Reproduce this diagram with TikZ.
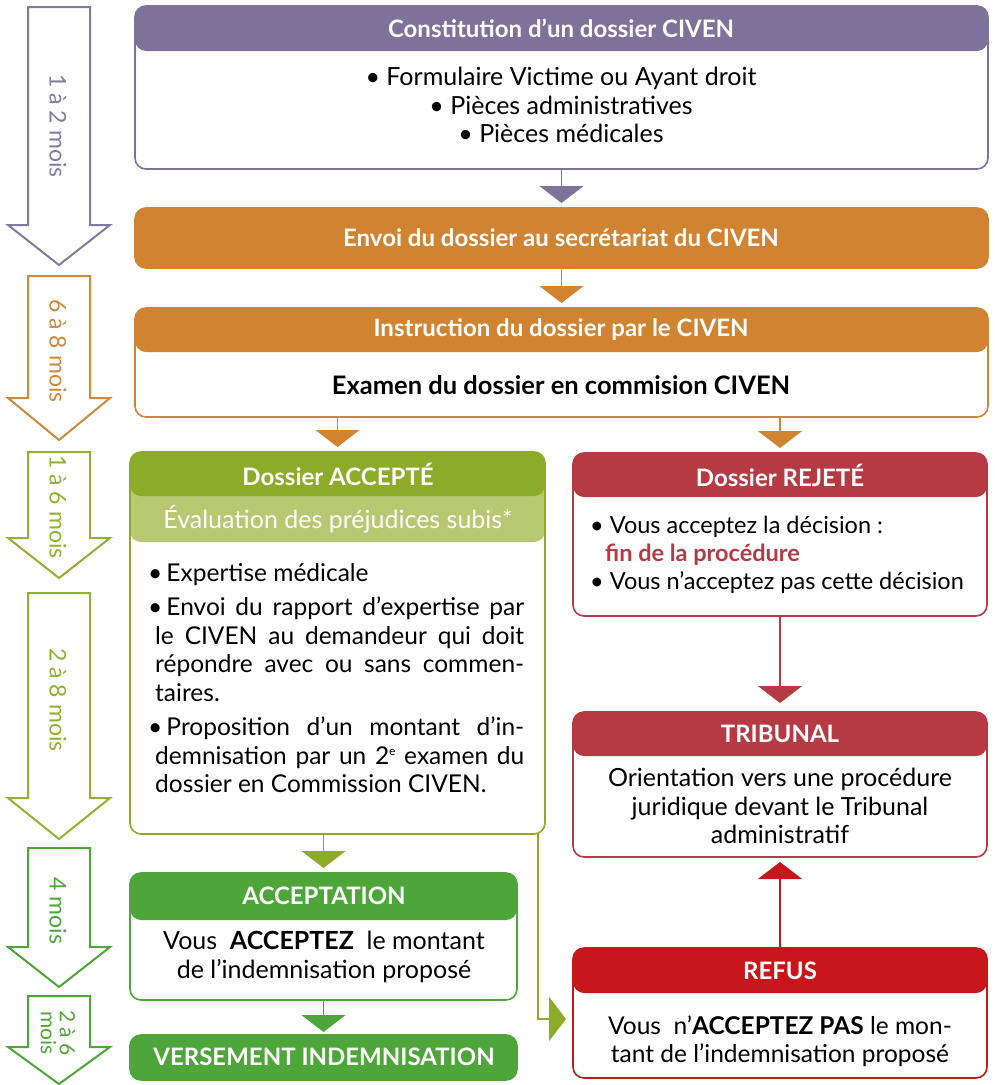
\documentclass[tikz,border=0pt]{standalone}
\usepackage{fontspec}
\setmainfont{Lato}
\usetikzlibrary{arrows.meta}

\definecolor{purp}{HTML}{7D7299}
\definecolor{orng}{HTML}{D08330}
\definecolor{olive}{HTML}{8BAB29}
\definecolor{lolive}{HTML}{B8C870}
\definecolor{rose}{HTML}{B63A43}
\definecolor{scarl}{HTML}{C8171B}
\definecolor{grn}{HTML}{4EA63A}
\definecolor{tpurp}{HTML}{837AA0}
\definecolor{torng}{HTML}{D0883A}
\definecolor{tolive}{HTML}{8FB32E}

\tikzset{
  panel/.style={draw=#1, line width=1.6pt, rounded corners=11pt, fill=white,
    inner sep=0pt, outer sep=0pt, anchor=north west},
  band/.style 2 args={path picture={\fill[#1] ([yshift=2pt]path picture bounding box.north west)
    rectangle ([yshift=-#2]path picture bounding box.north east);}},
  headtxt/.style={text=white, inner sep=0pt, font=\bfseries\fontsize{24}{28}\selectfont},
  bodytxt/.style={inner sep=0pt, align=center, font=\fontsize{25}{28.5}\selectfont},
  flow/.style={line width=1.8pt, -{Triangle[width=44pt,length=17pt]}, shorten >=5pt},
  timearrow/.style={line width=2pt, line join=miter, fill=white},
  timetxt/.style={rotate=-90, inner sep=0pt, align=center},
}

\begin{document}
\begin{tikzpicture}[x=1pt, y=-1pt]
  \useasboundingbox (0,0) rectangle (994,1085);

  % time line on the left
  \foreach \top/\hb/\tip/\ty/\fs/\col/\lab [count=\i] in
    {7/225/265/126/23/tpurp/{1 à 2 mois}, 276/398/440/351/23/torng/{6 à 8 mois},
     452/538/578/507/23/tolive/{1 à 6 mois}, 593/798/839/700/23/tolive/{2 à 8 mois},
     848/947/987/911/23/grn/{4 mois}, 996/1047/1084/1033/21/grn/{2 à 6\\mois}}
  {
    \draw[timearrow, draw=\col] (28,\top) -- (90,\top) -- (90,\hb) -- (110,\hb)
      -- (59,\tip) -- (8,\hb) -- (28,\hb) -- cycle;
    \node[timetxt, text=\col, font=\fontsize{\fs}{19}\selectfont] (time\i) at (58,\ty) {\lab};
  }

  % constitution
  \node[panel=purp, band={purp}{45pt}, minimum width=853pt, minimum height=163pt] (const) at (135,6) {};
  \node[headtxt] (const-t) at (561,28) {Constitution d’un dossier CIVEN};
  \node[bodytxt] (const-b) at (561,105) {\textbullet\ Formulaire Victime ou Ayant droit\\
    \textbullet\ Pièces administratives\\ \textbullet\ Pièces médicales};

  % envoi
  \node[panel=orng, fill=orng, minimum width=853pt, minimum height=60pt] (envoi) at (135,208) {};
  \node[headtxt] (envoi-t) at (561,238) {Envoi du dossier au secrétariat du CIVEN};

  % instruction
  \node[panel=orng, band={orng}{44pt}, minimum width=853pt, minimum height=109pt] (instr) at (135,308) {};
  \node[headtxt] (instr-t) at (561,330) {Instruction du dossier par le CIVEN};
  \node[bodytxt, font=\bfseries\fontsize{25.5}{28}\selectfont] (instr-b) at (561,385)
    {Examen du dossier en commision CIVEN};

  % dossier accepte
  \node[panel=olive, minimum width=415pt, minimum height=382pt,
    path picture={\fill[lolive] (path picture bounding box.north west)
      rectangle ([yshift=-90pt]path picture bounding box.north east);
      \fill[olive] ([yshift=2pt]path picture bounding box.north west)
      rectangle ([yshift=-44pt]path picture bounding box.north east);}] (acc) at (130,452) {};
  \node[headtxt] (acc-t) at (338,474) {Dossier ACCEPTÉ};
  \node[headtxt, font=\fontsize{25}{28}\selectfont] (acc-s) at (338,519) {Évaluation des préjudices subis*};
  \node[inner sep=0pt, anchor=north west, align=left, font=\fontsize{24.5}{28.5}\selectfont] (acc-b) at (148,563)
    {\textbullet\,Expertise médicale\\[6pt]
     \makebox[376pt][s]{\textbullet\,Envoi du rapport d’expertise par}\\
     \hspace*{7pt}\makebox[369pt][s]{le CIVEN au demandeur qui doit}\\
     \hspace*{7pt}\makebox[369pt][s]{répondre avec ou sans commen-}\\
     \hspace*{7pt}taires.\\[6pt]
     \makebox[376pt][s]{\textbullet\,Proposition d’un montant d’in-}\\
     \hspace*{7pt}\makebox[369pt][s]{demnisation par un 2\raisebox{9pt}{\fontsize{12}{12}\selectfont e} examen du}\\
     \hspace*{7pt}dossier en Commission CIVEN.};

  % dossier rejete
  \node[panel=rose, band={rose}{44pt}, minimum width=414pt, minimum height=163pt] (rej) at (573,453) {};
  \node[headtxt] (rej-t) at (780,475) {Dossier REJETÉ};
  \node[bodytxt, align=left, anchor=west, font=\fontsize{23.5}{28}\selectfont] (rej-b) at (590,555)
    {\textbullet\ Vous acceptez la décision :\\
     \hspace*{15pt}{\color{rose}\bfseries fin de la procédure}\\
     \textbullet\ Vous n’acceptez pas cette décision};

  % tribunal
  \node[panel=rose, band={rose}{44pt}, minimum width=414pt, minimum height=145pt] (trib) at (573,712) {};
  \node[headtxt] (trib-t) at (780,734) {TRIBUNAL};
  \node[bodytxt] (trib-b) at (780,806) {Orientation vers une procédure\\
    juridique devant le Tribunal\\ administratif};

  % acceptation
  \node[panel=grn, band={grn}{47pt}, minimum width=387pt, minimum height=127pt] (accn) at (130,873) {};
  \node[headtxt] (accn-t) at (324,896) {ACCEPTATION};
  \node[bodytxt] (accn-b) at (324,957) {Vous \ \textbf{ACCEPTEZ} \ le montant\\
    de l’indemnisation proposé};

  % versement
  \node[panel=grn, fill=grn, minimum width=387pt, minimum height=45pt] (vers) at (130,1035) {};
  \node[headtxt] (vers-t) at (324,1057) {VERSEMENT INDEMNISATION};

  % refus
  \node[panel=scarl, band={scarl}{45pt}, minimum width=414pt, minimum height=130pt] (refus) at (573,948) {};
  \node[headtxt] (refus-t) at (780,971) {REFUS};
  \node[bodytxt, font=\fontsize{24.5}{28}\selectfont] (refus-b) at (780,1041) {Vous \ n’\textbf{ACCEPTEZ PAS} le mon-\\
    tant de l’indemnisation proposé};

  % connectors
  \draw[flow, purp] (const.south) -- (envoi.north);
  \draw[flow, orng] (envoi.south) -- (instr.north);
  \draw[flow, orng] (instr.south -| acc.north) -- (acc.north);
  \draw[flow, orng] (instr.south -| rej.north) -- (rej.north);
  \draw[flow, rose, shorten >=9pt] (rej.south) -- (trib.north);
  \draw[flow, scarl] (refus.north) -- (trib.south);
  \draw[flow, olive] (acc.south -| accn.north) -- (accn.north);
  \draw[flow, grn, shorten >=3pt] (accn.south) -- (vers.north);
  \draw[flow, olive, shorten >=7pt] ([xshift=-7pt]acc.south east) |- ([yshift=-6pt]refus.west);
\end{tikzpicture}
\end{document}
